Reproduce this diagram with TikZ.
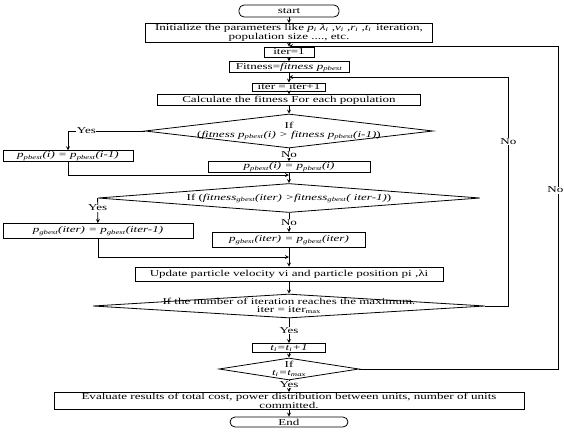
\documentclass[tikz,border=0pt]{standalone}
\usepackage{fontspec}
\setmainfont{Liberation Serif}[FakeStretch=1.45]
\usepackage{tikz}
\usetikzlibrary{shapes.geometric, arrows, positioning}
\tikzstyle{term} = [rectangle, rounded corners=5pt, inner sep=1pt, align=center, draw=black, thick]
\tikzstyle{box} = [rectangle, inner sep=1pt, align=center, draw=black, thick]
\tikzstyle{decision} = [diamond, inner sep=0pt, draw=black, thick]
\tikzstyle{dtext} = [inner sep=0pt, align=center]
\tikzstyle{lbl} = [fill=white, inner sep=0.5pt]
\tikzstyle{arrow2} = [thick,->,>=stealth]

\begin{document}
\begin{tikzpicture}[x=1pt, y=-1pt, font=\fontsize{9}{8.5}\selectfont]
            \useasboundingbox (0,0) rectangle (564,434);
            % Nodes
            \node (start) [term, minimum width=100pt, minimum height=12pt] at (289,11) {start};
            \node (init) [box, below of=start, node distance=22pt, minimum width=287pt, minimum height=17pt] {Initialize the parameters like \textit{p\textsubscript{i} λ\textsubscript{i} ,v\textsubscript{i} ,r\textsubscript{i} ,t\textsubscript{i}}\, iteration,\\ population size ...., etc.};
            \node (loopa) [coordinate, below of=init, node distance=13pt] {};
            \node (iter1) [box, below of=init, node distance=19pt, minimum width=50pt, minimum height=10pt] {iter=1};
            \node (fit) [box, below of=iter1, node distance=15pt, minimum width=120pt, minimum height=9pt] {Fitness=\textit{fitness p\textsubscript{pbest}}};
            \node (loopb) [coordinate, below of=fit, node distance=10pt] {};
            \node (iterinc) [box, below of=fit, node distance=20pt, minimum width=73pt, minimum height=8pt] {iter = iter+1};
            \node (calc) [box, below of=iterinc, node distance=13pt, minimum width=263pt, minimum height=8pt] {Calculate the fitness For each population};

            \node (dec1) [decision, below of=calc, node distance=31pt, minimum width=288pt, minimum height=34pt] {};
            \node (dec1txt) [dtext] at (dec1) {If\\ (\textit{fitness p\textsubscript{pbest}(i) > fitness p\textsubscript{pbest}(i-1)})};
            \node (pb1no) [box, below of=dec1, node distance=36pt, minimum width=162pt, minimum height=10pt] {\textit{p\textsubscript{pbest}(i) = p\textsubscript{pbest}(i)}};
            \node (pb1yes) [box, left of=pb1no, node distance=221pt, yshift=11pt, minimum width=130pt, minimum height=8pt] {\textit{p\textsubscript{pbest}(i) = p\textsubscript{pbest}(i-1)}};
            \node (merge1) [coordinate, below of=pb1no, node distance=8pt] {};

            \node (dec2) [decision, below of=pb1no, node distance=31pt, minimum width=382pt, minimum height=29pt] {};
            \node (dec2txt) [dtext] at (dec2) {If (\textit{fitness\textsubscript{gbest}(iter) >fitness\textsubscript{gbest}( iter-1)})};
            \node (pb2no) [box, below of=dec2, node distance=42pt, minimum width=153pt, minimum height=15pt] {\textit{p\textsubscript{gbest}(iter) = p\textsubscript{gbest}(iter)}};
            \node (pb2yes) [box, left of=pb2no, node distance=191pt, yshift=9pt, minimum width=190pt, minimum height=15pt] {\textit{p\textsubscript{gbest}(iter) = p\textsubscript{gbest}(iter-1)}};
            \node (merge2) [coordinate, below of=pb2no, node distance=17pt] {};

            \node (update) [box, below of=pb2no, node distance=34pt, minimum width=308pt, minimum height=14pt] {Update particle velocity vi and particle position pi ,λi};
            \node (dec3) [decision, below of=update, node distance=32pt, minimum width=392pt, minimum height=24pt] {};
            \node (dec3txt) [dtext] at (dec3) {If the number of iteration reaches the maximum.\\ iter = iter\textsubscript{max}};
            \node (tinc) [box, below of=dec3, node distance=42pt, minimum width=73pt, minimum height=9pt] {\textit{t\textsubscript{i}=t\textsubscript{i}+1}};
            \node (dec4) [decision, below of=tinc, node distance=21pt, minimum width=140pt, minimum height=22pt] {};
            \node (dec4txt) [dtext] at (dec4) {If\\ \textit{t\textsubscript{i}=t\textsubscript{max}}};
            \node (eval) [box, below of=dec4, node distance=32pt, minimum width=470pt, minimum height=14pt] {Evaluate results of total cost, power distribution between units, number of units\\ committed.};
            \node (end) [term, below of=eval, node distance=21pt, minimum width=118pt, minimum height=10pt] {End};

            % Edges
            \draw [arrow2] (start) -- (init);
            \draw [arrow2] (init) -- (iter1);
            \draw [arrow2] (iter1) -- (fit);
            \draw [arrow2] (fit) -- (iterinc);
            \draw [arrow2] (iterinc) -- (calc);
            \draw [arrow2] (calc) -- (dec1);
            \draw [arrow2] (dec1) -- node[lbl] {No} (pb1no);
            \draw [arrow2] (dec1.west) -| node[lbl, pos=0.38] {Yes} (pb1yes);
            \draw [arrow2] (pb1yes) |- (merge1);
            \draw [arrow2] (pb1no) -- (dec2);
            \draw [arrow2] (dec2) -- node[lbl] {No} (pb2no);
            \draw [arrow2] (dec2.west) -- node[lbl, pos=0.4] {Yes} (pb2yes);
            \draw [arrow2] (pb2yes) |- (merge2);
            \draw [arrow2] (pb2no) -- (update);
            \draw [arrow2] (update) -- (dec3);
            \draw [arrow2] (dec3) -- node[lbl] {Yes} (tinc);
            \draw [arrow2] (dec3.east) -- ++(23,0) |- node[lbl, pos=0.36] {No} (loopb);
            \draw [arrow2] (tinc) -- (dec4);
            \draw [arrow2] (dec4) -- node[lbl, pos=0.35] {Yes} (eval);
            \draw [arrow2] (dec4.east) -- ++(199,0) |- node[lbl, pos=0.277, xshift=-3pt] {No} (loopa);
            \draw [arrow2] (eval) -- (end);
        \end{tikzpicture}
\end{document}
